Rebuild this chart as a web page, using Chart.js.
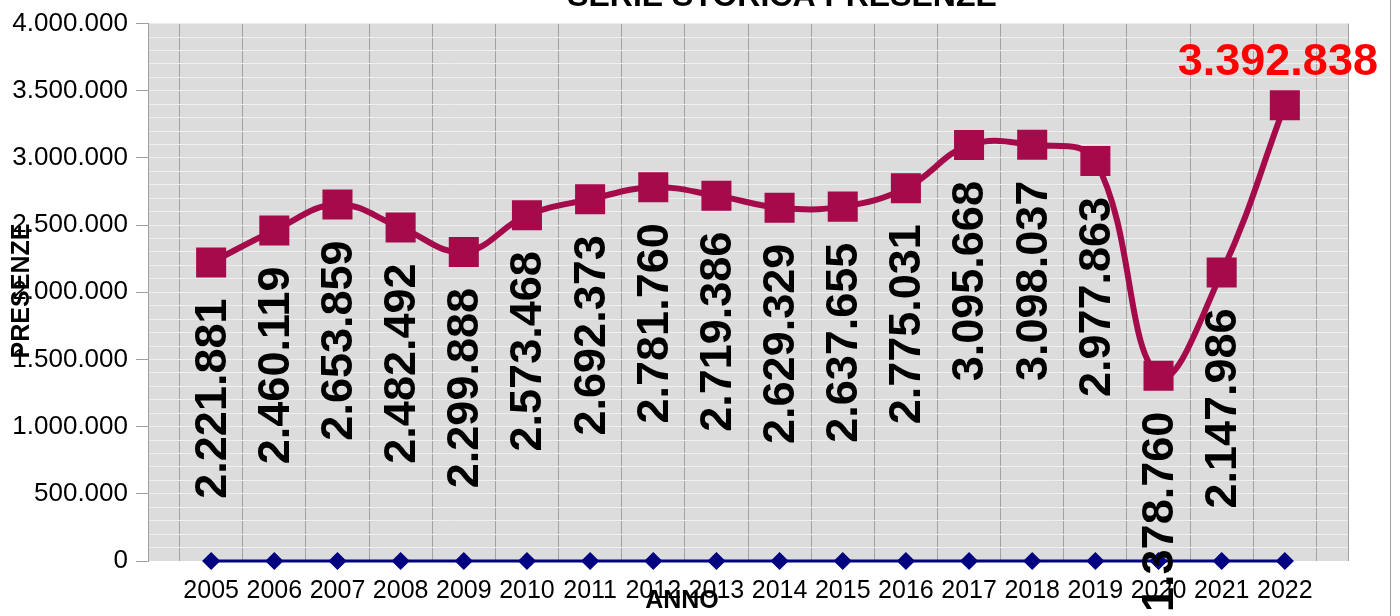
<!DOCTYPE html>
<html lang="it">
<head>
    <meta charset="UTF-8">
    <title>Serie storica presenze</title>
    <script src="https://cdn.jsdelivr.net/npm/chart.js"></script>
    <style>
        html, body { margin: 0; padding: 0; background: #ffffff; }
        #wrap { width: 1400px; height: 616px; }
    </style>
</head>
<body>
    <div id="wrap"><canvas id="presenzeChart" width="1400" height="616"></canvas></div>

    <script>
        // Dati
        const anni = ['2005', '2006', '2007', '2008', '2009', '2010', '2011', '2012', '2013',
                      '2014', '2015', '2016', '2017', '2018', '2019', '2020', '2021', '2022'];
        const presenze = [2221881, 2460119, 2653859, 2482492, 2299888, 2573468, 2692373, 2781760, 2719386,
                          2629329, 2637655, 2775031, 3095668, 3098037, 2977863, 1378760, 2147986, 3392838];
        const serieBase = [0, 0, 0, 0, 0, 0, 0, 0, 0, 0, 0, 0, 0, 0, 0, 0, 0, 0];
        const yMin = 0;
        const yMax = 4000000;
        const yStepLabel = 500000;
        const yStepGrid = 100000;

        const titolo = 'SERIE STORICA PRESENZE';
        const titoloX = 'ANNO';
        const titoloY = 'PRESENZE';

        // una categoria vuota prima e dopo
        const etichette = [''].concat(anni, ['']);
        const datiPresenze = [null].concat(presenze, [null]);
        const datiBase = [null].concat(serieBase, [null]);

        function formatta(n) {
            return String(n).replace(/\B(?=(\d{3})+(?!\d))/g, '.');
        }

        const FONT = '"Liberation Sans", Arial, sans-serif';

        const sfondo = {
            id: 'sfondo',
            beforeDraw(chart) {
                const { ctx, chartArea: a } = chart;
                ctx.save();
                ctx.fillStyle = '#dcdcdc';
                ctx.fillRect(a.left, a.top, a.right - a.left, a.bottom - a.top);
                ctx.restore();
            },
            afterDraw(chart) {
                const { ctx, chartArea: a } = chart;
                ctx.save();
                ctx.strokeStyle = '#a0a0a0';
                ctx.lineWidth = 1;
                ctx.beginPath();
                ctx.moveTo(a.right + 0.5, a.top);
                ctx.lineTo(a.right + 0.5, a.bottom);
                ctx.moveTo(1390.5, 0);
                ctx.lineTo(1390.5, 616);
                ctx.stroke();
                ctx.restore();
            }
        };

        const etichetteValori = {
            id: 'etichetteValori',
            afterDraw(chart) {
                const ctx = chart.ctx;
                const meta = chart.getDatasetMeta(0);
                const ultimo = datiPresenze.length - 2;
                ctx.save();
                meta.data.forEach((p, i) => {
                    const v = datiPresenze[i];
                    if (v === null) return;
                    ctx.font = 'bold 45px ' + FONT;
                    if (i === ultimo) {
                        ctx.fillStyle = '#ff0000';
                        ctx.textAlign = 'center';
                        ctx.textBaseline = 'alphabetic';
                        ctx.fillText(formatta(v), p.x - 7, p.y - 30);
                    } else {
                        ctx.fillStyle = '#000000';
                        ctx.save();
                        ctx.translate(p.x, p.y + 36);
                        ctx.rotate(-Math.PI / 2);
                        ctx.textAlign = 'right';
                        ctx.textBaseline = 'middle';
                        ctx.fillText(formatta(v), 0, 2);
                        ctx.restore();
                    }
                });

                // titoli
                ctx.fillStyle = '#000000';
                ctx.textAlign = 'center';
                ctx.textBaseline = 'alphabetic';
                ctx.font = 'bold 32px ' + FONT;
                ctx.fillText(titolo, 782, 6);
                ctx.font = 'bold 25px ' + FONT;
                ctx.fillText(titoloX, 682, 608);
                ctx.save();
                ctx.translate(29, 291);
                ctx.rotate(-Math.PI / 2);
                ctx.fillText(titoloY, 0, 0);
                ctx.restore();
                ctx.restore();
            }
        };

        new Chart(document.getElementById('presenzeChart').getContext('2d'), {
            type: 'line',
            data: {
                labels: etichette,
                datasets: [{
                    label: 'Presenze',
                    data: datiPresenze,
                    borderColor: '#a50a4a',
                    backgroundColor: '#a50a4a',
                    borderWidth: 6,
                    tension: 0.4,
                    pointStyle: 'rect',
                    pointRadius: 17,
                    pointHoverRadius: 17,
                    order: 1
                }, {
                    label: 'Base',
                    data: datiBase,
                    borderColor: '#000080',
                    backgroundColor: '#000080',
                    borderWidth: 3,
                    tension: 0,
                    clip: false,
                    pointStyle: 'rectRot',
                    pointRadius: 7,
                    pointHoverRadius: 7,
                    order: 2
                }]
            },
            options: {
                responsive: false,
                animation: false,
                layout: { padding: { top: 21, right: 52, left: 0, bottom: 0 } },
                plugins: {
                    legend: { display: false },
                    tooltip: { enabled: false }
                },
                scales: {
                    x: {
                        type: 'category',
                        offset: false,
                        afterFit(scale) { scale.height = 55; },
                        grid: {
                            offset: true,
                            color: '#a0a0a0',
                            lineWidth: 1,
                            drawTicks: false
                        },
                        border: { display: false },
                        ticks: {
                            autoSkip: false,
                            maxRotation: 0,
                            padding: 15,
                            color: '#000000',
                            font: { family: FONT, size: 25 }
                        }
                    },
                    y: {
                        min: yMin,
                        max: yMax,
                        afterFit(scale) { scale.width = 148; },
                        afterBuildTicks(scale) {
                            const t = [];
                            for (let v = yMin; v <= yMax; v += yStepGrid) t.push({ value: v });
                            scale.ticks = t;
                        },
                        grid: {
                            color: (c) => (c.tick && c.tick.value === yMin) ? 'rgba(0,0,0,0)' : '#eeeeee',
                            tickColor: (c) => (c.tick && c.tick.value % yStepLabel === 0) ? '#a0a0a0' : 'rgba(0,0,0,0)',
                            tickLength: 12,
                            lineWidth: 1
                        },
                        border: { display: true, color: '#a0a0a0' },
                        ticks: {
                            autoSkip: false,
                            padding: 8,
                            color: '#000000',
                            font: { family: FONT, size: 26 },
                            callback: (v) => (v % yStepLabel === 0) ? formatta(v) : ''
                        }
                    }
                }
            },
            plugins: [sfondo, etichetteValori]
        });
    </script>
</body>
</html>
